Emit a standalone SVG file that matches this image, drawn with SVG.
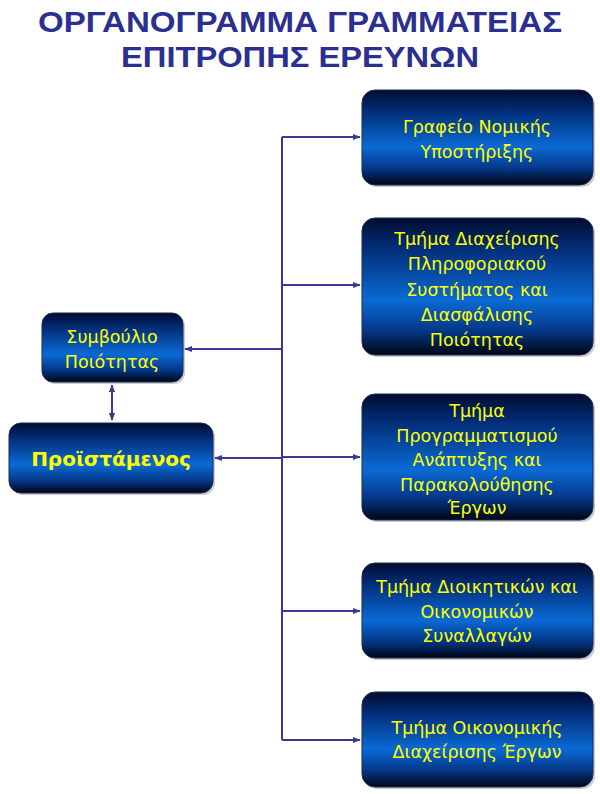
<svg xmlns="http://www.w3.org/2000/svg" width="600" height="794" viewBox="0 0 600 794">
<defs>
<linearGradient id="g" x1="0" y1="0" x2="0" y2="1">
<stop offset="0" stop-color="#000c2e"/>
<stop offset="0.2" stop-color="#022a72"/>
<stop offset="0.6" stop-color="#0a6ad4"/>
<stop offset="0.82" stop-color="#04388a"/>
<stop offset="1" stop-color="#000514"/>
</linearGradient>
<marker id="ah" viewBox="0 0 10 10" refX="9" refY="5" markerWidth="4" markerHeight="4" orient="auto-start-reverse" markerUnits="strokeWidth">
<path d="M0,1 L10,5 L0,9 Z" fill="#3a3a96"/>
</marker>
</defs>
<style>
.box{fill:url(#g);stroke:#1a2a50;stroke-width:1}
.sh{fill:#9a9a9a;opacity:0.5}
.t{font-family:"DejaVu Sans",Verdana,sans-serif;font-size:17.5px;fill:#ffff00;text-anchor:middle}
.tb{font-family:"DejaVu Sans",Verdana,sans-serif;font-size:20px;font-weight:bold;fill:#ffff00;text-anchor:middle}
.title{font-family:"Liberation Sans",Arial,sans-serif;font-size:30px;font-weight:bold;fill:#2b2f8f;text-anchor:middle}
.c{fill:none;stroke:#3a3a96;stroke-width:2}
</style>
<rect width="600" height="794" fill="#ffffff"/>
<g id="title">
<text class="title" x="300" y="32" textLength="524" lengthAdjust="spacingAndGlyphs">ΟΡΓΑΝΟΓΡΑΜΜΑ ΓΡΑΜΜΑΤΕΙΑΣ</text>
<text class="title" x="300" y="67" textLength="358" lengthAdjust="spacingAndGlyphs">ΕΠΙΤΡΟΠΗΣ ΕΡΕΥΝΩΝ</text>
</g>
<g id="connectors">
<path class="c" d="M282,137 V740"/>
<path class="c" d="M282,137 H360" marker-end="url(#ah)"/>
<path class="c" d="M282,285 H360" marker-end="url(#ah)"/>
<path class="c" d="M282,457 H360" marker-end="url(#ah)"/>
<path class="c" d="M282,611 H360" marker-end="url(#ah)"/>
<path class="c" d="M282,740 H360" marker-end="url(#ah)"/>
<path class="c" d="M282,349 H185" marker-end="url(#ah)"/>
<path class="c" d="M282,458 H215" marker-end="url(#ah)"/>
<path class="c" d="M112,385 V420" marker-start="url(#ah)" marker-end="url(#ah)"/>
</g>
<g id="n1">
<rect class="sh" x="364" y="92" width="231" height="95" rx="13"/>
<rect class="box" x="362" y="90" width="231" height="95" rx="13"/>
<text class="t" x="477" y="133">Γραφείο Νομικής</text>
<text class="t" x="477" y="158">Υποστήριξης</text>
</g>
<g id="n2">
<rect class="sh" x="364" y="220" width="231" height="137" rx="13"/>
<rect class="box" x="362" y="218" width="231" height="137" rx="13"/>
<text class="t" x="477" y="245">Τμήμα Διαχείρισης</text>
<text class="t" x="477" y="270">Πληροφοριακού</text>
<text class="t" x="477" y="296">Συστήματος και</text>
<text class="t" x="477" y="321">Διασφάλισης</text>
<text class="t" x="477" y="346">Ποιότητας</text>
</g>
<g id="n3">
<rect class="sh" x="364" y="396" width="231" height="126" rx="13"/>
<rect class="box" x="362" y="394" width="231" height="126" rx="13"/>
<text class="t" x="477" y="417">Τμήμα</text>
<text class="t" x="477" y="442">Προγραμματισμού</text>
<text class="t" x="477" y="466">Ανάπτυξης και</text>
<text class="t" x="477" y="491">Παρακολούθησης</text>
<text class="t" x="477" y="514">Έργων</text>
</g>
<g id="n4">
<rect class="sh" x="364" y="565" width="231" height="95" rx="13"/>
<rect class="box" x="362" y="563" width="231" height="95" rx="13"/>
<text class="t" x="477" y="593">Τμήμα Διοικητικών και</text>
<text class="t" x="477" y="618">Οικονομικών</text>
<text class="t" x="477" y="642">Συναλλαγών</text>
</g>
<g id="n5">
<rect class="sh" x="364" y="694" width="231" height="95" rx="13"/>
<rect class="box" x="362" y="692" width="231" height="95" rx="13"/>
<text class="t" x="477" y="734">Τμήμα Οικονομικής</text>
<text class="t" x="477" y="758">Διαχείρισης Έργων</text>
</g>
<g id="n6">
<rect class="sh" x="44" y="315" width="141" height="69" rx="11"/>
<rect class="box" x="42" y="313" width="141" height="69" rx="11"/>
<text class="t" x="112" y="343">Συμβούλιο</text>
<text class="t" x="112" y="368">Ποιότητας</text>
</g>
<g id="n7">
<rect class="sh" x="11" y="425" width="204" height="70" rx="12"/>
<rect class="box" x="9" y="423" width="204" height="70" rx="12"/>
<text class="tb" x="111" y="466">Προϊστάμενος</text>
</g>
</svg>
